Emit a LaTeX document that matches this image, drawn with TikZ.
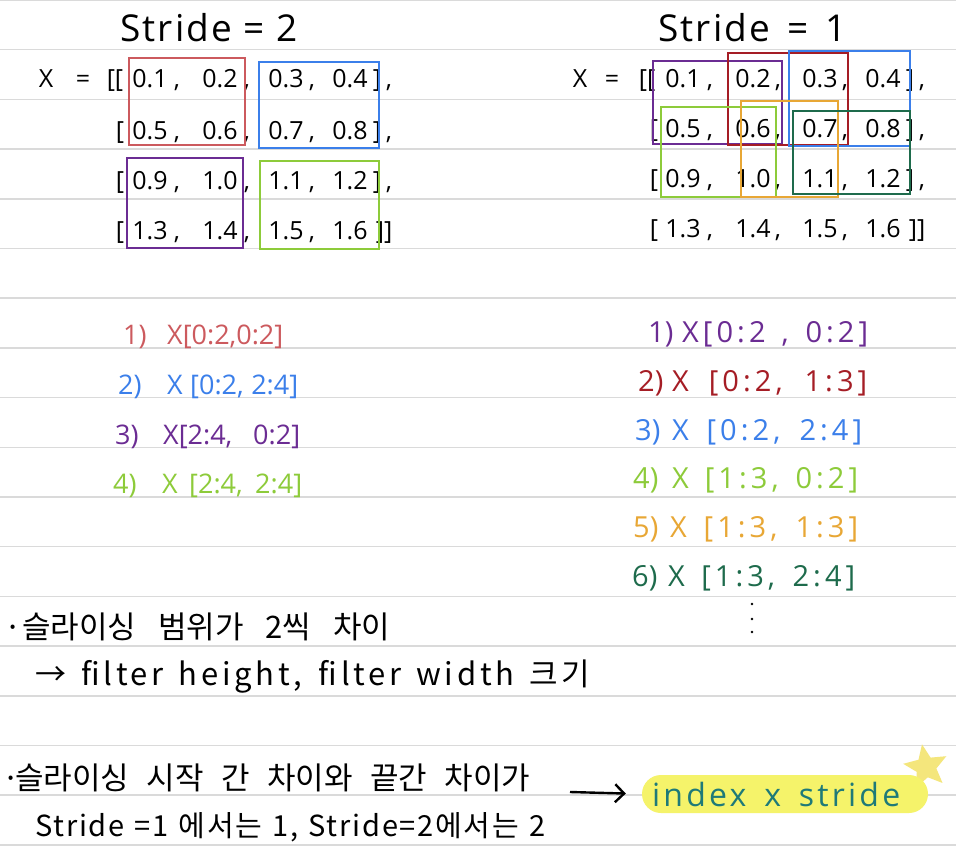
\documentclass[tikz,border=0pt]{standalone}
\usepackage{fontspec}
\setmainfont{Open Sans}
\newfontfamily\kr{Noto Sans CJK KR}
\usetikzlibrary{shapes.geometric,arrows.meta}
\definecolor{rulec}{HTML}{DADADA}
\definecolor{redl}{HTML}{CC5A5E}
\definecolor{bluel}{HTML}{3B7FEA}
\definecolor{purl}{HTML}{6B2C93}
\definecolor{lgrn}{HTML}{8DCB3A}
\definecolor{dred}{HTML}{A51D25}
\definecolor{orng}{HTML}{E8A735}
\definecolor{dgrn}{HTML}{1E6B4C}
\definecolor{teal2}{HTML}{1E7A78}
\definecolor{hlc}{HTML}{F5F36A}
\definecolor{starc}{HTML}{F4E67C}
\newcommand{\spreadbox}[2]{\makebox[#1][s]{#2}}
\begin{document}
\begin{tikzpicture}[x=1pt,y=-1pt,
  num/.style={font=\fontsize{25}{28}\selectfont, inner sep=0pt, anchor=base},
  ttl/.style={font=\fontsize{37}{40}\selectfont\addfontfeatures{LetterSpace=6}, inner sep=0pt, anchor=base west},
  lst/.style={font=\fontsize{27}{30}\selectfont, inner sep=0pt, anchor=base west},
  rnum/.style={font=\fontsize{29}{32}\selectfont, inner sep=0pt, anchor=base west},
  rlst/.style={font=\fontsize{29}{32}\selectfont\addfontfeatures{LetterSpace=14}, inner sep=0pt, anchor=base west},
  krt/.style={font=\kr\fontsize{31}{34}\selectfont, inner sep=0pt, anchor=base west},
  boxl/.style={line width=1.4pt}]
\fill[white] (0,0) rectangle (956,853);
\useasboundingbox (0,0) rectangle (956,853);
\foreach \k in {0,...,17} \draw[rulec, line width=1.5pt] (0,\k*49.7) -- (956,\k*49.7);

% titles
\node[ttl] (t2) at (120,42) {\spreadbox{177pt}{Stride = 2}};
\node[ttl] (t1) at (658,42) {\spreadbox{188pt}{Stride = 1}};

% left matrix
\node[num] (lX) at (46,88) {X};
\node[num] (lEq) at (83,88) {=};
\node[num] (lB) at (115,88) {[[};
\foreach \r/\y/\a/\b/\c/\d in {1/88/0.1/0.2/0.3/0.4, 2/140/0.5/0.6/0.7/0.8, 3/190/0.9/1.0/1.1/1.2, 4/240/1.3/1.4/1.5/1.6} {
  \node[num] (la\r) at (150,\y) {\a};
  \node[num] (lb\r) at (220,\y) {\b};
  \node[num] (lc\r) at (286,\y) {\c};
  \node[num] (ld\r) at (350,\y) {\d};
  \node[num] (lka\r) at (177,\y) {,};
  \node[num] (lkb\r) at (247,\y) {,};
  \node[num] (lkc\r) at (312,\y) {,};
}
\foreach \r/\y in {2/140,3/190,4/240} \node[num] (ls\r) at (120,\y) {[};
\foreach \r/\y in {1/88,2/140,3/190} {
  \node[num] (le\r) at (377,\y) {]};
  \node[num] (lf\r) at (389,\y) {,};
}
\node[num] (le4) at (384,240) {]]};

\draw[boxl, redl] (129,58) rectangle (245,145);
\draw[boxl, bluel] (259,62) rectangle (379,148);
\draw[boxl, purl] (127,158) rectangle (243,248);
\draw[boxl, lgrn] (260,161) rectangle (379,249);

% right matrix
\node[num] (rX) at (580,88) {X};
\node[num] (rEq) at (612,88) {=};
\node[num] (rB) at (647,88) {[[};
\foreach \r/\y/\a/\b/\c/\d in {1/88/0.1/0.2/0.3/0.4, 2/138/0.5/0.6/0.7/0.8, 3/188/0.9/1.0/1.1/1.2, 4/238/1.3/1.4/1.5/1.6} {
  \node[num] (ra\r) at (683,\y) {\a};
  \node[num] (rb\r) at (753,\y) {\b};
  \node[num] (rc\r) at (820,\y) {\c};
  \node[num] (rd\r) at (883,\y) {\d};
  \node[num] (rka\r) at (710,\y) {,};
  \node[num] (rkb\r) at (778,\y) {,};
  \node[num] (rkc\r) at (845,\y) {,};
}
\foreach \r/\y in {2/138,3/188,4/238} \node[num] (rs\r) at (654,\y) {[};
\foreach \r/\y in {1/88,2/138,3/188} {
  \node[num] (re\r) at (910,\y) {]};
  \node[num] (rf\r) at (922,\y) {,};
}
\node[num] (re4) at (917,238) {]]};

\draw[boxl, purl] (653,61) rectangle (782,144);
\draw[boxl, dred] (728,53) rectangle (848,145);
\draw[boxl, bluel] (789,51) rectangle (910,146);
\draw[boxl, lgrn] (661,107) rectangle (776,197);
\draw[boxl, orng] (741,101) rectangle (838,197);
\draw[boxl, dgrn] (793,111) rectangle (910,194);

% left list
\node[lst, redl] (ln1) at (123,344) {1)};
\node[lst, redl] (lx1) at (167,344) {X[0:2,0:2]};
\node[lst, bluel] (ln2) at (118,394) {2)};
\node[lst, bluel] (lx2) at (167,394) {\spreadbox{131pt}{X [0:2, 2:4]}};
\node[lst, purl] (ln3) at (115,444) {3)};
\node[lst, purl] (lx3) at (163,444) {\spreadbox{137pt}{X[2:4, 0:2]}};
\node[lst, lgrn] (ln4) at (113,493) {4)};
\node[lst, lgrn] (lx4) at (162,493) {\spreadbox{140pt}{X [2:4, 2:4]}};

% right list
\node[rnum, purl] (rn1) at (648,342) {1)};
\node[rlst, purl] (rx1) at (682,342) {\spreadbox{186pt}{X[0:2 , 0:2]}};
\node[rnum, dred] (rn2) at (638,391) {2)};
\node[rlst, dred] (rx2) at (672,391) {\spreadbox{195pt}{X [0:2, 1:3]}};
\node[rnum, bluel] (rn3) at (635,440) {3)};
\node[rlst, bluel] (rx3) at (672,440) {\spreadbox{190pt}{X [0:2, 2:4]}};
\node[rnum, lgrn] (rn4) at (633,488) {4)};
\node[rlst, lgrn] (rx4) at (672,488) {\spreadbox{186pt}{X [1:3, 0:2]}};
\node[rnum, orng] (rn5) at (633,537) {5)};
\node[rlst, orng] (rx5) at (670,537) {\spreadbox{188pt}{X [1:3, 1:3]}};
\node[rnum, dgrn] (rn6) at (632,586) {6)};
\node[rlst, dgrn] (rx6) at (668,586) {\spreadbox{187pt}{X [1:3, 2:4]}};
\foreach \yy in {604,619,632} \fill (752,\yy) circle (1.4);

% notes
\node[krt] (b1) at (4,638) {·};
\node[krt] (k1) at (22,638) {\spreadbox{368pt}{슬라이싱 범위가 2씩 차이}};
\node[krt, font=\kr\fontsize{31}{34}\selectfont\addfontfeatures{LetterSpace=12}] (k2) at (35,685) {\spreadbox{555pt}{→ filter height, filter width 크기}};
\node[krt] (b3) at (2,789) {·};
\node[krt] (k3) at (15,789) {\spreadbox{515pt}{슬라이싱 시작 간 차이와 끝간 차이가}};
\node[krt, font=\kr\fontsize{29}{32}\selectfont\addfontfeatures{LetterSpace=6}] (k4) at (35,836) {\spreadbox{510pt}{Stride =1 에서는 1, Stride=2에서는 2}};

% highlight
\node[star, star points=5, star point ratio=2.2, fill=starc, minimum size=46pt, inner sep=0pt, rotate=10] (str) at (926,767) {};
\node[fill=hlc, rounded corners=19pt, minimum width=286pt, minimum height=38pt, inner sep=0pt] (hl) at (785,794) {};
\node[font=\fontsize{32}{34}\selectfont\addfontfeatures{LetterSpace=10}, text=teal2, inner sep=0pt, anchor=base west] (ix) at (652,806) {\spreadbox{248pt}{index x stride}};
\coordinate (as) at (570,792);
\draw[line width=2.4pt, -{Straight Barb[length=9pt]}, shorten >=16pt] (as) -- (hl.west);
\end{tikzpicture}
\end{document}
